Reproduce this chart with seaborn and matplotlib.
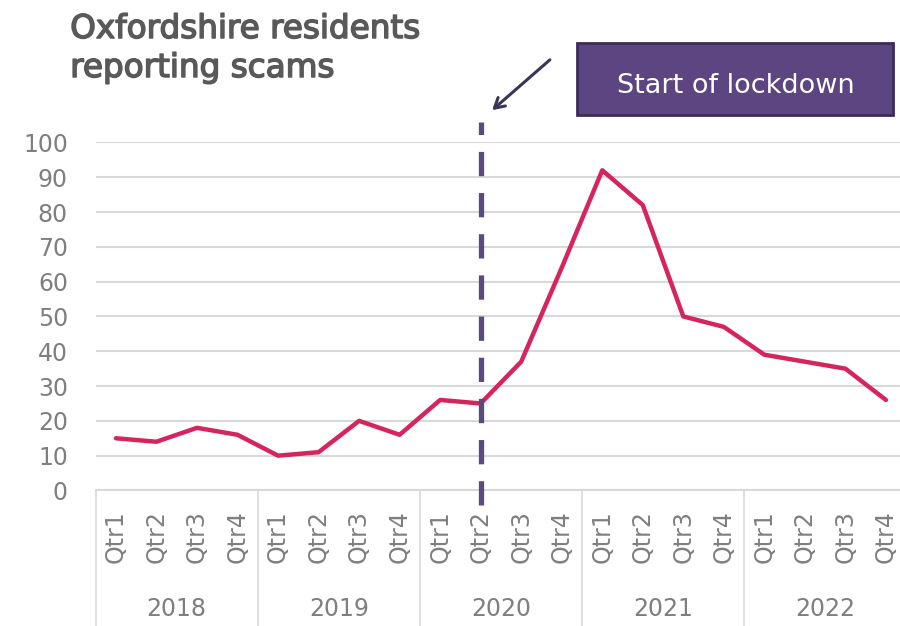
import matplotlib
matplotlib.use("Agg")
import matplotlib.pyplot as plt
import matplotlib.transforms as mtransforms
import matplotlib.patheffects as pe
from matplotlib.patches import Rectangle, FancyArrowPatch
import seaborn as sns
import pandas as pd

# data
years = ["2018", "2019", "2020", "2021", "2022"]
quarters = ["Qtr1", "Qtr2", "Qtr3", "Qtr4"]
scams = [15, 14, 18, 16,
         10, 11, 20, 16,
         26, 25, 37, 64,
         92, 82, 50, 47,
         39, 37, 35, 26]
lockdown = ("2020", "Qtr2")

rows = [(y, q) for y in years for q in quarters]
data = pd.DataFrame(rows, columns=["year", "quarter"])
data["pos"] = range(len(data))
data["scams"] = scams

sns.set_style("white")
plt.rcParams["font.family"] = ["DejaVu Sans"]

grey = "#7f7f7f"
line_col = "#d6245d"
purple = "#5b4a80"

fig = plt.figure(figsize=(9, 6.26), dpi=100)
ax = fig.add_axes([0.1063, 0.2165, 0.9006, 0.556])

sns.lineplot(data=data, x="pos", y="scams", color=line_col, linewidth=3.2, ax=ax)

ax.set_xlim(-0.5, len(data) - 0.5)
ax.set_ylim(0, 100)
ax.set_yticks(range(0, 101, 10))
ax.yaxis.grid(True, color="#d9d9d9", linewidth=1.5)
ax.set_axisbelow(True)
for s in ["left", "right", "top"]:
    ax.spines[s].set_visible(False)
ax.spines["bottom"].set_color("#d9d9d9")
ax.spines["bottom"].set_linewidth(1.5)
ax.tick_params(axis="y", length=0, labelsize=17, labelcolor=grey, pad=20)
ax.set_xticks(data["pos"])
ax.set_xticklabels(data["quarter"], rotation=90, fontsize=17, color=grey)
ax.tick_params(axis="x", length=0, pad=14)
ax.set_xlabel("")
ax.set_ylabel("")

# year grouping under the quarters
trans = mtransforms.blended_transform_factory(ax.transData, ax.transAxes)
n = len(quarters)
for i, yr in enumerate(years):
    ax.text(i * n + (n - 1) / 2, -0.34, yr, transform=trans, ha="center",
            va="center", fontsize=17, color=grey)
for i in range(len(years) + 1):
    ax.plot([i * n - 0.5, i * n - 0.5], [0, -0.5], transform=trans,
            color="#d9d9d9", linewidth=1.2, clip_on=False)

# lockdown marker
lx = data.loc[(data["year"] == lockdown[0]) & (data["quarter"] == lockdown[1]), "pos"].iloc[0]
ax.plot([lx, lx], [-4.2, 106], color=purple, linewidth=3.8,
        dashes=(4.6, 3.2), clip_on=False, zorder=5)

fig.patches.append(Rectangle((0.641, 0.816), 0.351, 0.115, transform=fig.transFigure,
                             facecolor="#5c4580", edgecolor="#3d2c58", linewidth=2))
fig.text(0.8178, 0.8514, "Start of lockdown", ha="center", va="baseline",
         fontsize=19.5, color="white")
fig.patches.append(FancyArrowPatch((552 / 900, 1 - 58 / 626), (490 / 900, 1 - 112 / 626),
                                   transform=fig.transFigure, arrowstyle="->,head_length=7,head_width=4",
                                   color="#3a3556", linewidth=2.2))

title_fx = [pe.withStroke(linewidth=1.1, foreground="#595959")]
fig.text(0.078, 1 - 38 / 626, "Oxfordshire residents", ha="left", va="baseline",
         fontsize=23.5, color="#595959", path_effects=title_fx)
fig.text(0.078, 1 - 77 / 626, "reporting scams", ha="left", va="baseline",
         fontsize=23.5, color="#595959", path_effects=title_fx)

fig.savefig("out.png", dpi=100)
